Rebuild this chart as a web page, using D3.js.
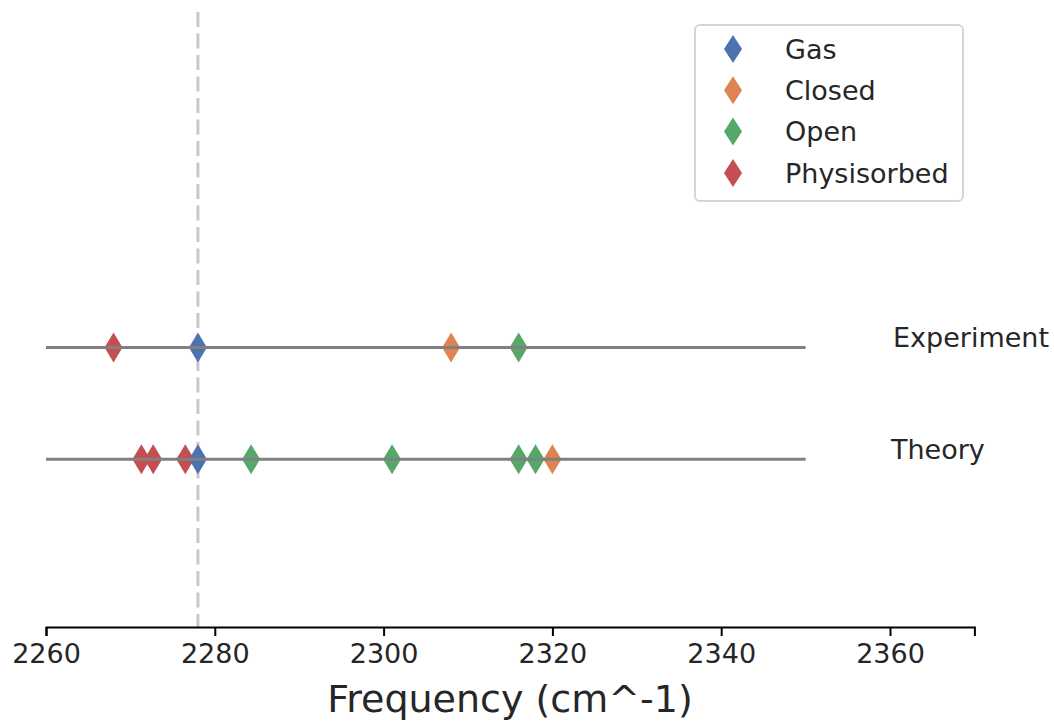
<!DOCTYPE html>
<html>
<head>
<meta charset="utf-8">
<script src="https://cdn.jsdelivr.net/npm/d3@7"></script>
<style>
  body { margin: 0; background: #fff; }
  text { font-family: "DejaVu Sans", sans-serif; fill: #262626; }
</style>
</head>
<body>
<div id="chart"></div>
<script>
// rows on the y axis
var rows = ["Experiment", "Theory"];
var rowPos = [2, 1];

// series names and colours (legend order)
var seriesNames = ["Gas", "Closed", "Open", "Physisorbed"];
var seriesColors = ["#4c72b0", "#dd8452", "#55a868", "#c44e52"];

// frequencies per series, cm^-1
var expGas = [2278];
var expClosed = [2308];
var expOpen = [2316];
var expPhys = [2268];

var theoGas = [2278];
var theoClosed = [2320];
var theoOpen = [2284.3, 2301, 2316, 2318];
var theoPhys = [2271.3, 2272.7, 2276.5];

var gasRef = 2278;
var lineStart = 2260, lineEnd = 2350;
var xTicks = [2260, 2280, 2300, 2320, 2340, 2360];

var width = 1054, height = 722;

var svg = d3.select("#chart")
  .append("svg")
    .attr("width", width)
    .attr("height", height);

var x = d3.scaleLinear()
  .domain([2260, 2370])
  .range([46, 974.4]);

var y = d3.scaleLinear()
  .domain([-0.5, 5])
  .range([627, 12]);

// dashed reference line at the gas-phase frequency
svg.append("line")
  .attr("x1", x(gasRef)).attr("x2", x(gasRef))
  .attr("y1", y(5)).attr("y2", y(-0.5))
  .attr("stroke", "#c8c8c8")
  .attr("stroke-width", 3)
  .attr("stroke-dasharray", "15,6.5");

// collect points for each row
var rowData = [
  [expGas, expClosed, expOpen, expPhys],
  [theoGas, theoClosed, theoOpen, theoPhys]
];

var points = [];
rowData.forEach(function(r, i) {
  r.forEach(function(vals, s) {
    vals.forEach(function(v) {
      points.push({row: i, series: s, value: v});
    });
  });
});
points.sort(function(a, b) { return a.value - b.value; });

// thin diamond, like matplotlib "d"
function diamond(w, h) {
  return "M0," + (-h/2) + "L" + (w/2) + ",0L0," + (h/2) + "L" + (-w/2) + ",0Z";
}

svg.append("g")
  .selectAll("path")
  .data(points)
  .enter()
  .append("path")
    .attr("d", diamond(18, 30))
    .attr("transform", function(d) {
      return "translate(" + x(d.value) + "," + y(rowPos[d.row]) + ")";
    })
    .attr("fill", function(d) { return seriesColors[d.series]; });

// horizontal row lines, drawn over the markers
svg.append("g")
  .selectAll("line")
  .data(rows)
  .enter()
  .append("line")
    .attr("x1", x(lineStart))
    .attr("x2", x(lineEnd))
    .attr("y1", function(d, i) { return y(rowPos[i]); })
    .attr("y2", function(d, i) { return y(rowPos[i]); })
    .attr("stroke", "#808080")
    .attr("stroke-width", 3);

// row labels
svg.append("g")
  .selectAll("text")
  .data(rows)
  .enter()
  .append("text")
    .attr("x", function(d, i) { return i == 0 ? x(2360) + 3 : x(2360) + 1; })
    .attr("y", function(d, i) { return y(rowPos[i]); })
    .style("font-size", "27px")
    .text(function(d) { return d; });

// x axis
var axis = svg.append("g")
  .attr("transform", "translate(0," + y(-0.5) + ")")
  .call(d3.axisBottom(x).tickValues(xTicks).tickFormat(d3.format("d")).tickSizeOuter(0).tickSize(9).tickPadding(8));

axis.select(".domain").attr("stroke", "#000").attr("stroke-width", 2);
axis.selectAll(".tick line").attr("stroke", "#000").attr("stroke-width", 2);
axis.selectAll(".tick text")
  .style("font-family", "DejaVu Sans")
  .style("font-size", "27px")
  .attr("fill", "#262626");

svg.append("text")
  .attr("text-anchor", "middle")
  .attr("x", 510)
  .attr("y", 712)
  .style("font-size", "38px")
  .text("Frequency (cm^-1)");

// legend
var legend = svg.append("g");
legend.append("rect")
  .attr("x", 695).attr("y", 25)
  .attr("width", 268).attr("height", 176)
  .attr("rx", 5)
  .attr("fill", "#fff")
  .attr("stroke", "#d6d6d6")
  .attr("stroke-width", 2);

var items = legend.selectAll(".item")
  .data(seriesNames)
  .enter()
  .append("g")
    .attr("transform", function(d, i) { return "translate(0," + (49 + i * 41.3) + ")"; });

items.append("path")
  .attr("d", diamond(18, 28))
  .attr("transform", "translate(733,0)")
  .attr("fill", function(d, i) { return seriesColors[i]; });

items.append("text")
  .attr("x", 785)
  .attr("y", 0)
  .attr("dy", "0.36em")
  .style("font-size", "27px")
  .text(function(d) { return d; });
</script>
</body>
</html>
